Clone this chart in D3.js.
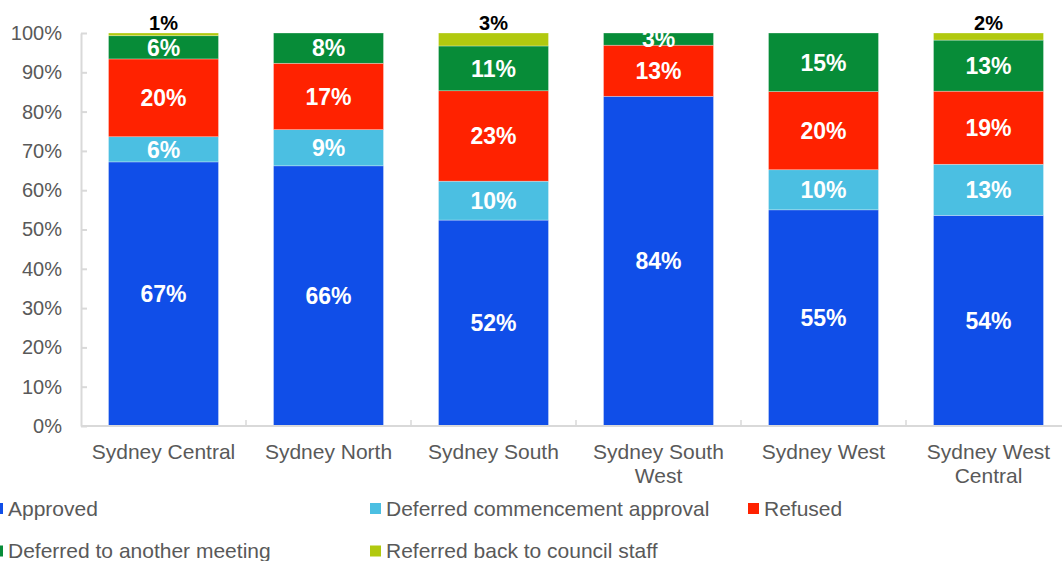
<!DOCTYPE html>
<html>
<head>
<meta charset="utf-8">
<script src="https://cdn.jsdelivr.net/npm/d3@7"></script>
<style>
  body { margin: 0; background: #fff; }
  svg { display: block; font-family: "Liberation Sans", Arial, sans-serif; }
</style>
</head>
<body>
<div id="chart"></div>
<script>
// data (percent of decisions per panel)
var categories = ["Sydney Central", "Sydney North", "Sydney South", "Sydney South West", "Sydney West", "Sydney West Central"];
var categoryLines = [["Sydney Central"], ["Sydney North"], ["Sydney South"], ["Sydney South", "West"], ["Sydney West"], ["Sydney West", "Central"]];
var seriesNames = ["Approved", "Deferred commencement approval", "Refused", "Deferred to another meeting", "Referred back to council staff"];
var approved = [67.2, 66.2, 52.4, 83.9, 55.0, 53.6];
var deferredCommencement = [6.4, 9.2, 9.9, 0, 10.2, 13.0];
var refused = [19.8, 16.9, 23.0, 13.0, 19.9, 18.6];
var deferredMeeting = [5.9, 7.7, 11.4, 3.1, 14.9, 13.0];
var referredBack = [0.7, 0, 3.3, 0, 0, 1.8];
var yTicks = [0, 10, 20, 30, 40, 50, 60, 70, 80, 90, 100];

var colors = ["#104ee8", "#4bbfe2", "#ff2200", "#078c38", "#b1c90f"];

var width = 1062;
var height = 561;
// plot area (note: "top" is a reserved global in browsers)
var plotLeft = 81, plotRight = 1071, plotTop = 33, plotBottom = 426;

var seriesValues = [approved, deferredCommencement, refused, deferredMeeting, referredBack];
var rows = categories.map(function (c, i) {
    var row = { category: c };
    seriesNames.forEach(function (s, j) { row[s] = seriesValues[j][i]; });
    return row;
});

var stacked = d3.stack().keys(seriesNames)(rows);

var x = d3.scaleBand()
    .domain(categories)
    .range([plotLeft, plotRight])
    .paddingInner(1 / 3)
    .paddingOuter(1 / 6);

var y = d3.scaleLinear()
    .domain([0, 100])
    .range([plotBottom, plotTop]);

var svg = d3.select('#chart')
    .append('svg')
    .attr('width', width)
    .attr('height', height);

svg.append('clipPath')
    .attr('id', 'plotclip')
    .append('rect')
    .attr('x', plotLeft)
    .attr('y', plotTop)
    .attr('width', width - plotLeft)
    .attr('height', plotBottom - plotTop);

// bars
var layers = svg.selectAll('.layer')
    .data(stacked)
    .enter()
    .append('g')
    .attr('class', 'layer')
    .attr('fill', function (d, i) { return colors[i]; });

layers.selectAll('rect')
    .data(function (d) { return d; })
    .enter()
    .append('rect')
    .attr('x', function (d) { return x(d.data.category); })
    .attr('y', function (d) { return y(d[1]); })
    .attr('width', x.bandwidth())
    .attr('height', function (d) { return y(d[0]) - y(d[1]); })
    .attr('stroke', '#ffffff')
    .attr('stroke-opacity', 0.5)
    .attr('stroke-width', 0.6);

// y axis
var yAxis = svg.append('g')
    .attr('transform', 'translate(' + plotLeft + ',0)')
    .call(d3.axisLeft(y)
        .tickValues(yTicks)
        .tickFormat(function (d) { return d + '%'; })
        .tickSizeInner(-6)
        .tickSizeOuter(0)
        .tickPadding(19));

yAxis.select('.domain').attr('stroke', '#d9d9d9').attr('stroke-width', 2);
yAxis.selectAll('.tick line').attr('stroke', '#d9d9d9').attr('stroke-width', 2);
yAxis.selectAll('.tick text')
    .attr('fill', '#595959')
    .style('font-size', '20px')
    .style('font-family', '"Liberation Sans", Arial, sans-serif');

// x axis line and category separators
svg.append('line')
    .attr('x1', plotLeft).attr('x2', width)
    .attr('y1', plotBottom).attr('y2', plotBottom)
    .attr('stroke', '#d9d9d9')
    .attr('stroke-width', 2);

var step = x.step();
svg.selectAll('.sep')
    .data(categories.slice(0, -1))
    .enter()
    .append('line')
    .attr('class', 'sep')
    .attr('x1', function (d) { return x(d) + x.bandwidth() + (step - x.bandwidth()) / 2; })
    .attr('x2', function (d) { return x(d) + x.bandwidth() + (step - x.bandwidth()) / 2; })
    .attr('y1', plotBottom)
    .attr('y2', plotBottom - 6)
    .attr('stroke', '#d9d9d9')
    .attr('stroke-width', 1.5);

// category labels
var catText = svg.selectAll('.cat')
    .data(categories)
    .enter()
    .append('text')
    .attr('class', 'cat')
    .attr('text-anchor', 'middle')
    .attr('fill', '#595959')
    .style('font-size', '21px')
    .attr('y', 459);

catText.each(function (d, i) {
    var t = d3.select(this);
    categoryLines[i].forEach(function (line, k) {
        t.append('tspan')
            .attr('x', x(d) + x.bandwidth() / 2)
            .attr('dy', k === 0 ? 0 : 24)
            .text(line);
    });
});

// value labels inside segments (white)
var inner = svg.append('g').attr('clip-path', 'url(#plotclip)');
stacked.slice(0, 4).forEach(function (layer) {
    inner.selectAll(null)
        .data(layer.filter(function (d) { return d[1] - d[0] > 0; }))
        .enter()
        .append('text')
        .attr('x', function (d) { return x(d.data.category) + x.bandwidth() / 2; })
        .attr('y', function (d) { return y((d[0] + d[1]) / 2); })
        .attr('dy', '0.36em')
        .attr('text-anchor', 'middle')
        .attr('fill', '#ffffff')
        .style('font-size', '23px')
        .style('font-weight', 'bold')
        .text(function (d) { return Math.round(d[1] - d[0]) + '%'; });
});

// referred back labels above the bars (black)
svg.selectAll('.toplabel')
    .data(stacked[4].filter(function (d) { return d[1] - d[0] > 0; }))
    .enter()
    .append('text')
    .attr('class', 'toplabel')
    .attr('x', function (d) { return x(d.data.category) + x.bandwidth() / 2; })
    .attr('y', function (d) { return y(d[1]) - 10; })
    .attr('dy', '0.36em')
    .attr('text-anchor', 'middle')
    .attr('fill', '#000000')
    .style('font-size', '20px')
    .style('font-weight', 'bold')
    .text(function (d) { return Math.round(d[1] - d[0]) + '%'; });

// legend
var legendPos = [[-8, 508.5], [370, 508.5], [748, 508.5], [-8, 551], [370, 551]];
var legend = svg.selectAll('.legend')
    .data(seriesNames)
    .enter()
    .append('g')
    .attr('class', 'legend')
    .attr('transform', function (d, i) {
        return 'translate(' + legendPos[i][0] + ',' + legendPos[i][1] + ')';
    });

legend.append('rect')
    .attr('x', 0)
    .attr('y', -5.5)
    .attr('width', 11)
    .attr('height', 11)
    .attr('fill', function (d, i) { return colors[i]; });

legend.append('text')
    .attr('x', 16)
    .attr('dy', '0.35em')
    .attr('fill', '#595959')
    .style('font-size', '21px')
    .text(function (d) { return d; });
</script>
</body>
</html>
